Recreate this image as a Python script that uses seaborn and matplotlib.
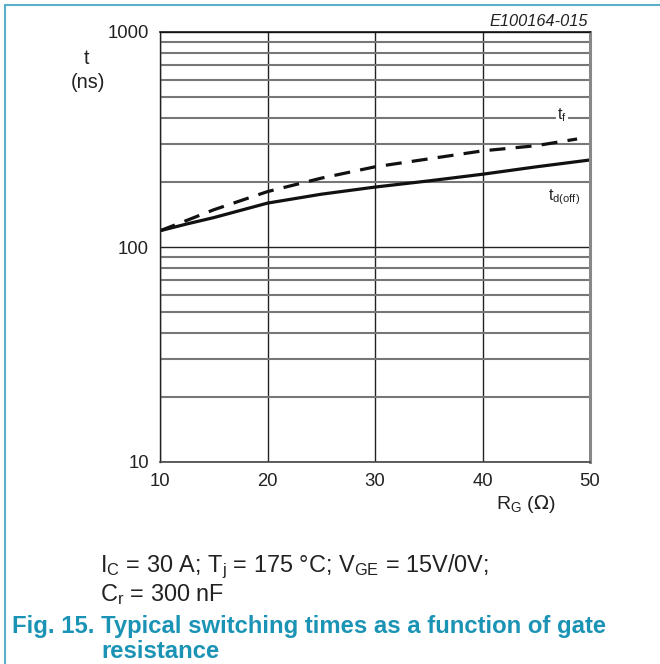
import matplotlib
matplotlib.use("Agg")
import matplotlib.pyplot as plt
import seaborn as sns
import pandas as pd
from matplotlib.ticker import FixedLocator, NullFormatter, LogLocator
from matplotlib.lines import Line2D

# Gate resistance (ohm) and switching times (ns)
rg_tdoff = [10, 12.5, 15, 20, 25, 30, 35, 40, 45, 50]
t_doff = [119, 128, 137, 160, 176, 190, 203, 218, 236, 254]
rg_tf = [10, 12.5, 15, 20, 25, 30, 35, 40, 45, 48.8]
t_f = [119, 133, 149, 181, 209, 236, 257, 280, 296, 318]

x_ticks = [10, 20, 30, 40, 50]
y_ticks = [10, 100, 1000]

df = pd.concat([
    pd.DataFrame({"RG": rg_tdoff, "t": t_doff, "curve": "td(off)"}),
    pd.DataFrame({"RG": rg_tf, "t": t_f, "curve": "tf"}),
])

sns.set_style("white")
plt.rcParams["font.family"] = ["Liberation Sans", "DejaVu Sans"]

fig = plt.figure(figsize=(6.6, 6.64), dpi=100)
ax = fig.add_axes([160 / 660, 1 - 462 / 664, 430 / 660, 430 / 664])

ax.set_yscale("log")
ax.set_xlim(10, 50)
ax.set_ylim(10, 1000)

# grid: vertical decades, horizontal 1..9 per decade
ax.xaxis.set_major_locator(FixedLocator(x_ticks))
ax.yaxis.set_major_locator(FixedLocator(y_ticks))
ax.yaxis.set_minor_locator(LogLocator(base=10, subs=range(2, 10)))
ax.yaxis.set_minor_formatter(NullFormatter())
ax.set_xticklabels([str(v) for v in x_ticks])
ax.set_yticklabels([str(v) for v in y_ticks])
ax.grid(True, axis="x", which="major", color="#222222", lw=1.0)
ax.grid(True, axis="y", which="major", color="#222222", lw=1.0)
ax.grid(True, axis="y", which="minor", color="#777777", lw=1.5)
ax.tick_params(axis="both", which="both", length=0, labelsize=13.3, colors="#222222")
ax.tick_params(axis="y", pad=8)
ax.tick_params(axis="x", pad=8)

sns.lineplot(data=df, x="RG", y="t", style="curve", color="#111111",
             dashes={"td(off)": "", "tf": (5, 3.2)}, lw=2.3, legend=False, ax=ax)
ax.set_xlabel("")
ax.set_ylabel("")

for side, col, lw in [("left", "#222222", 1.0), ("bottom", "#444444", 1.2),
                      ("top", "#111111", 1.2), ("right", "#888888", 2.2)]:
    ax.spines[side].set_visible(True)
    ax.spines[side].set_color(col)
    ax.spines[side].set_linewidth(lw)

# curve labels
ax.text(562 / 660, 1 - 115 / 664, r"t$_\mathregular{f}$", transform=fig.transFigure,
        ha="center", va="center", fontsize=11.5, color="#222222",
        bbox=dict(facecolor="white", edgecolor="none", pad=1.0))
ax.text(564 / 660, 1 - 197 / 664, r"t$_\mathregular{d(off)}$", transform=fig.transFigure,
        ha="center", va="center", fontsize=11.5, color="#222222")

# axis titles
fig.text(87 / 660, 1 - 58 / 664, "t", ha="center", va="center", fontsize=14.3, color="#222222")
fig.text(88 / 660, 1 - 82 / 664, "(ns)", ha="center", va="center", fontsize=14.3, color="#222222")
fig.text(526 / 660, 1 - 504 / 664, r"R$_\mathregular{G}$ ($\Omega$)", ha="center", va="center",
         fontsize=14, color="#222222")
fig.text(588 / 660, 1 - 21 / 664, "E100164-015", ha="right", va="center", fontsize=11.8,
         style="italic", color="#222222")

# test conditions
fig.text(100 / 660, 1 - 567 / 664,
         r"I$_\mathregular{C}$ = 30 A; T$_\mathregular{j}$ = 175 °C; V$_\mathregular{GE}$ = 15V/0V;",
         ha="left", va="center", fontsize=16.9, color="#222222")
fig.text(100 / 660, 1 - 595 / 664, r"C$_\mathregular{r}$ = 300 nF",
         ha="left", va="center", fontsize=16.9, color="#222222")

# caption
cap_col = "#1b93b5"
fig.text(12 / 660, 1 - 626 / 664, "Fig. 15. Typical switching times as a function of gate",
         ha="left", va="center", fontsize=17.2, fontweight="bold", color=cap_col)
fig.text(101 / 660, 1 - 652 / 664, "resistance",
         ha="left", va="center", fontsize=17.2, fontweight="bold", color=cap_col)

# frame lines
border = "#5ab0c8"
fig.add_artist(Line2D([5 / 660, 5 / 660], [0, 1 - 5 / 664], transform=fig.transFigure,
                      color=border, lw=1.5))
fig.add_artist(Line2D([5 / 660, 1], [1 - 5 / 664, 1 - 5 / 664], transform=fig.transFigure,
                      color=border, lw=1.5))

fig.savefig("out.png", dpi=100)
